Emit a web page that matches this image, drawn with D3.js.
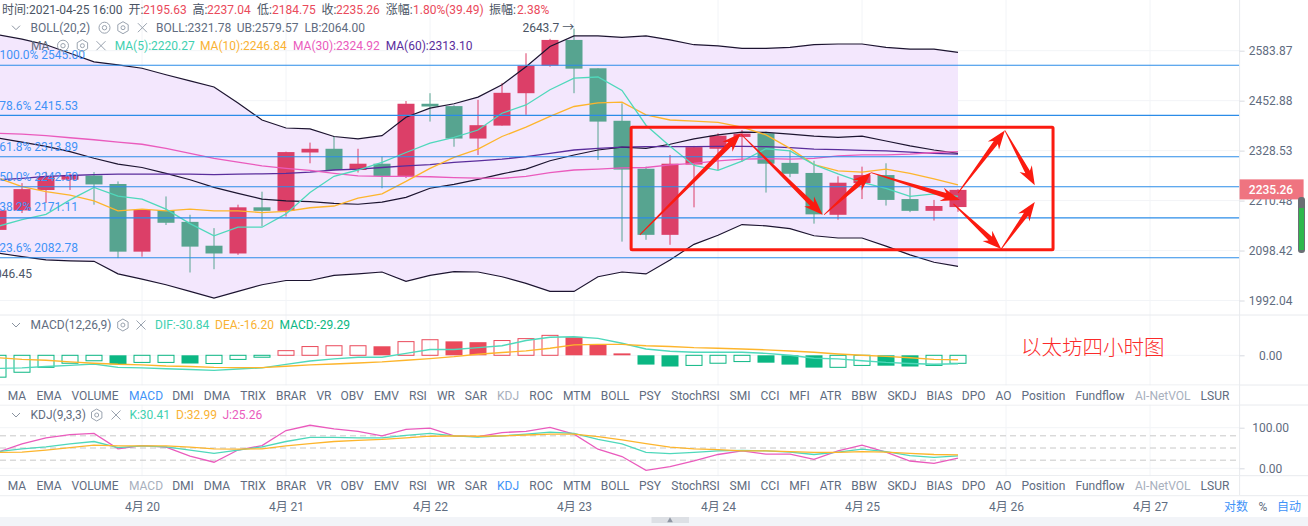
<!DOCTYPE html>
<html><head><meta charset="utf-8">
<script src="https://cdnjs.cloudflare.com/ajax/libs/d3/7.8.5/d3.min.js"></script>
<style>html,body{margin:0;padding:0;background:#fff;overflow:hidden}svg{display:block}text{font-family:Roboto,"Noto Sans CJK SC",sans-serif}</style>
</head><body><svg id="c" width="1308" height="526"></svg>
<script>
const opens=[2144,2188,2235,2259,2269,2249,2096,2188,2162,2109,2092,2195,2187,2324,2333,2282,2297,2268,2445,2439,2358,2390,2472,2544,2613,2537,2402,2285,2133,2295,2333,2362,2371,2299,2275,2178,2251,2270,2214,2187,2195.63];
const highs=[2193,2251,2278,2274,2277,2255,2191,2220,2178,2148,2201,2231,2326,2348,2363,2333,2314,2452,2472,2441,2455,2498,2577,2616,2643.7,2537,2446,2290,2318,2340,2371,2379,2375,2329,2304,2267,2290,2298,2241,2212,2237.04];
const lows=[2137,2182,2205,2235,2201,2082,2085,2155,2051,2058,2089,2152,2174,2298,2281,2276,2239,2263,2400,2338,2318,2390,2417,2541,2472,2306,2118,2122,2111,2195,2282,2302,2229,2265,2158,2167,2214,2199,2184,2165,2184.75];
const closes=[2188,2237,2267,2269,2248,2096,2189,2160,2107,2092,2195,2187,2325,2333,2282,2297,2268,2445,2438,2358,2391,2473,2544,2613,2536,2400,2283,2133,2297,2337,2365,2370,2297,2273,2179,2252,2270,2212,2187,2198,2235.26];
const bollUp=[2627,2615,2600,2577,2554,2546,2537,2520,2504,2488,2447,2404,2384,2382,2363,2357,2365,2411,2434,2445,2462,2494,2541,2595,2624,2624,2620,2624,2613,2600,2597,2590,2590,2593,2600,2602,2602,2593,2588,2588,2579.57];
const bollMid=[2359,2349,2339,2326,2310,2296,2288,2274,2259,2241,2227,2214,2210,2208,2204,2202,2207,2218,2239,2248,2260,2273,2284,2304,2318,2330,2337,2334,2344,2357,2367,2374,2373,2369,2364,2361,2364,2352,2340,2330,2321.78];
const bollLow=[2093,2085,2078,2076,2075,2048,2037,2025,2011,1997,2011,2025,2034,2034,2045,2048,2052,2032,2045,2053,2052,2042,2028,2011,2011,2042,2052,2048,2078,2112,2132,2156,2153,2147,2131,2126,2126,2108,2089,2073,2064];
const ma5=[2152,2167,2179,2212,2241,2221,2214,2191,2158,2131,2150,2150,2180,2229,2267,2282,2300,2324,2347,2361,2379,2421,2442,2481,2511,2514,2479,2391,2339,2293,2281,2303,2333,2328,2295,2273,2253,2239,2220,2226,2220.27];
const ma10=[2263,2243,2231,2223,2210,2187,2191,2187,2191,2187,2187,2183,2186,2194,2198,2216,2226,2255,2286,2312,2332,2363,2386,2413,2438,2447,2449,2417,2404,2401,2398,2386,2367,2334,2295,2280,2277,2284,2274,2261,2246.84];
const ma30=[2371,2369,2365,2360,2355,2349,2344,2334,2322,2310,2301,2292,2286,2281,2274,2268,2267,2267,2266,2264,2263,2262,2267,2276,2282,2284,2287,2288,2294,2298,2304,2308,2309,2308,2310,2316,2318,2318,2320,2324,2326];
const ma60=[2259,2262,2267,2269,2271,2272,2272,2272,2272,2271,2272,2273,2274,2277,2282,2284,2288,2292,2295,2300,2304,2308,2314,2322,2330,2334,2337,2338,2338,2338,2339,2339,2338,2336,2332,2331,2329,2328,2325,2322,2320];
const macdHist=[-80,-62,-44,-29,-20,-33,-26,-26,-30,-30,-15,-7,17,32,35,35,33,50,57,51,48,54,61,73,66,40,7,-34,-41,-37,-29,-23,-27,-34,-45,-44,-37,-38,-41,-37,-29.29];
const dif=[-48,-46,-41,-37,-32,-44,-46,-49,-52,-55,-50,-46,-33,-21,-13,-7,-7,7,21,21,28,35,54,66,68,62,44,23,15,11,11,11,7,0,-11,-13,-20,-26,-30,-33,-30.84];
const dea=[-9,-15,-18,-24,-29,-33,-35,-39,-41,-44,-45,-45,-40,-35,-32,-28,-24,-18,-12,-5,4,10,16,26,38,40,40,35,32,28,26,23,20,16,11,5,0,-4,-9,-15,-16.2];
const kVals=[41,48,53,60,66,51,55,53,45,37,45,53,66,76,76,75,75,81,86,80,77,80,84,89,86,71,60,39,36,39,43,44,43,40,34,40,47,41,31,27,30.41];
const dVals=[39,40,45,51,57,55,55,55,52,48,47,48,55,61,66,69,71,75,79,80,79,80,82,84,84,78,70,61,52,48,46,43,43,41,39,39,41,40,37,34,32.99];
const jVals=[40,60,75,83,86,48,56,52,30,15,45,56,93,106,97,91,80,96,99,80,78,88,91,101,84,47,29,-5,4,18,34,43,35,35,22,43,57,40,18,12,25.26];
const fibLevels=[2545,2415.53,2313.89,2242.5,2171.11,2082.78];
const fibLabels=["100.0% 2545.00","78.6% 2415.53","61.8% 2313.89","50.0% 2242.50","38.2% 2171.11","23.6% 2082.78"];
const priceTicks=[2583.87,2452.88,2328.53,2210.48,2098.42,1992.04];
const dayTicks=[6,12,18,24,30,36,42,48];
const dayLabels=["4月 20","4月 21","4月 22","4月 23","4月 24","4月 25","4月 26","4月 27"];
const tabs=["MA","EMA","VOLUME","MACD","DMI","DMA","TRIX","BRAR","VR","OBV","EMV","RSI","WR","SAR","KDJ","ROC","MTM","BOLL","PSY","StochRSI","SMI","CCI","MFI","ATR","BBW","SKDJ","BIAS","DPO","AO","Position","Fundflow","AI-NetVOL","LSUR"];
const tabCentres=[17,49,95,146,183,217,253,291,324,352,386.5,418,446,476,508,541,577,615,650,695.5,740,770,799.5,830.6,864,902,939.4,973.7,1003.5,1043.4,1100,1162.8,1215];
// annotation arrows: [candle index, price] pairs
const arrowsFrom=[[26.74,2133],[30.95,2369],[34.42,2178],[36.38,2276],[40,2228],[41.95,2378],[39.81,2203],[41.8,2102]];
const arrowsTo=[[30.95,2371],[34.36,2178],[36.38,2276],[40.08,2212],[41.95,2378],[43.2,2246],[41.8,2102],[43.2,2207]];
const boxIdx=[26.38,43.96], boxPrice=[2386,2100];

const idx=d3.range(opens.length);
const W=1308,AX=1239.6;
const svg=d3.select("#c");
const x=d3.scaleLinear().domain([0,40]).range([-2,958]);
const y=d3.scaleLog().domain([2583.87,1992.04]).range([50.7,300.5]);
const yM=d3.scaleLinear().domain([0,73]).range([355.3,335.35]);
const yK=d3.scaleLinear().domain([0,100]).range([468.3,427.7]);
const UP="#dc3f68",DN="#57a490",TEAL="#4fd8bb",ORG="#fdb52c",PINK="#ea5bbd",PUR="#5a2d9c",RED="#ea4a5b",HG="#0bb783",TXT="#5f6c80",BLUE="#3f93f7";
const t=(px,py,s,o={})=>svg.append("text").attr("x",px).attr("y",py).attr("dominant-baseline","central").attr("font-size",o.size||12).attr("text-anchor",o.anchor||"start").attr("fill",o.fill||TXT).attr("font-weight",o.weight||400).text(s);

// grid
const gG=svg.append("g").attr("stroke","#f2f4f7").attr("fill","none");
dayTicks.forEach(d=>gG.append("line").attr("x1",x(d)).attr("x2",x(d)).attr("y1",0).attr("y2",495));
priceTicks.forEach(p=>gG.append("line").attr("x1",0).attr("x2",AX).attr("y1",y(p)).attr("y2",y(p)));
[0].forEach(v=>gG.append("line").attr("x1",0).attr("x2",AX).attr("y1",yM(v)).attr("y2",yM(v)));
[0,100].forEach(v=>gG.append("line").attr("x1",0).attr("x2",AX).attr("y1",yK(v)).attr("y2",yK(v)));

// band
svg.append("path").datum(idx).attr("fill","#f3e7fd").attr("d",d3.area().x(i=>x(i)).y0(i=>y(bollLow[i])).y1(i=>y(bollUp[i])));

// candles
const cw=17;
const cg=svg.append("g");
cg.selectAll("line").data(idx).join("line").attr("x1",i=>x(i)).attr("x2",i=>x(i)).attr("y1",i=>y(highs[i])).attr("y2",i=>y(lows[i])).attr("stroke",i=>closes[i]>=opens[i]?UP:DN).attr("stroke-width",1);
cg.selectAll("rect").data(idx).join("rect").attr("x",i=>x(i)-cw/2).attr("width",cw).attr("y",i=>y(Math.max(opens[i],closes[i]))).attr("height",i=>Math.abs(y(opens[i])-y(closes[i]))).attr("fill",i=>closes[i]>=opens[i]?UP:DN);

// price lines
const lineP=s=>d3.line().x(i=>x(i)).y(i=>y(s[i]));
[[bollUp,"#1c1430",1.2],[bollMid,"#1c1430",1.2],[bollLow,"#1c1430",1.2],[ma60,PUR,1.3],[ma30,PINK,1.3],[ma10,ORG,1.3],[ma5,TEAL,1.3]].forEach(([s,c,w])=>
 svg.append("path").datum(idx).attr("fill","none").attr("stroke",c).attr("stroke-width",w).attr("d",lineP(s)));

// fib
fibLevels.forEach(p=>svg.append("line").attr("x1",0).attr("x2",AX).attr("y1",y(p)).attr("y2",y(p)).attr("stroke","#2b8ce8").attr("stroke-width",1.1));
const fibY=[55,105.7,146.7,176.7,207.3,247.7],fibEnd=[85,78,78,78,78,78];
fibLabels.forEach((s,i)=>t(fibEnd[i],fibY[i],s,{anchor:"end",fill:BLUE}));
t(32,274,"0.0% 2046.45",{anchor:"end",fill:"#4c5667"});

// MACD pane
const mg=svg.append("g");
idx.forEach(i=>{const v=macdHist[i],prev=i?macdHist[i-1]:-Infinity,c=v>=0?RED:HG,fill=v<prev;
 const y0=yM(0),y1=yM(v);
 mg.append("rect").attr("x",x(i)-cw/2+(fill?0:.5)).attr("width",fill?cw:cw-1).attr("y",Math.min(y0,y1)).attr("height",Math.abs(y1-y0)).attr("fill",fill?c:"none").attr("stroke",fill?"none":c);});
const lineM=s=>d3.line().x(i=>x(i)).y(i=>yM(s[i]));
svg.append("path").datum(idx).attr("fill","none").attr("stroke",TEAL).attr("stroke-width",1.4).attr("d",lineM(dif));
svg.append("path").datum(idx).attr("fill","none").attr("stroke",ORG).attr("stroke-width",1.4).attr("d",lineM(dea));

// KDJ pane
[80,50,20].forEach(v=>svg.append("line").attr("x1",0).attr("x2",AX).attr("y1",yK(v)).attr("y2",yK(v)).attr("stroke","#c8c8c8").attr("stroke-dasharray","6 4"));
const lineK=s=>d3.line().x(i=>x(i)).y(i=>yK(s[i]));
[[jVals,PINK],[kVals,TEAL],[dVals,ORG]].forEach(([s,c])=>svg.append("path").datum(idx).attr("fill","none").attr("stroke",c).attr("stroke-width",1.3).attr("d",lineK(s)));

// separators
const sep=svg.append("g").attr("stroke","#e8eaee");
[315,385,405,475.7,495.7].forEach(v=>sep.append("line").attr("x1",0).attr("x2",W).attr("y1",v).attr("y2",v));
svg.append("rect").attr("x",0).attr("y",385.5).attr("width",AX).attr("height",19).attr("fill","#fff");
svg.append("rect").attr("x",0).attr("y",476.2).attr("width",AX).attr("height",19).attr("fill","#fff");
svg.append("rect").attr("x",0).attr("y",517).attr("width",W).attr("height",9).attr("fill","#f2f4f8");
svg.append("rect").attr("x",651.5).attr("y",517).attr("width",37.5).attr("height",6).attr("fill","#dde0e5");
svg.append("path").attr("d",d3.symbol(d3.symbolTriangle,14)()).attr("transform","translate(670,520.5)").attr("fill","#8f96a3");

// tabs
tabs.forEach((s,i)=>{
 const c1=s==="MACD"?BLUE:(s==="KDJ"||s==="AI-NetVOL")?"#a8b0bd":TXT;
 const c2=s==="KDJ"?BLUE:(s==="MACD"||s==="AI-NetVOL")?"#a8b0bd":TXT;
 t(tabCentres[i],395.7,s,{anchor:"middle",fill:c1});
 t(tabCentres[i],485.7,s,{anchor:"middle",fill:c2});
});

// axes
const styleAxis=(g)=>{g.select(".domain").attr("stroke","#e8eaee");g.selectAll(".tick line").attr("stroke","#d8dbe1");g.selectAll(".tick text").attr("x",31).attr("text-anchor","middle").attr("fill",TXT).attr("font-size",12).attr("font-family","Roboto");};
svg.append("line").attr("x1",AX).attr("x2",AX).attr("y1",0).attr("y2",495).attr("stroke","#e8eaee");
svg.append("g").attr("transform",`translate(${AX},0)`).call(d3.axisRight(y).tickValues(priceTicks).tickFormat(d3.format(".2f")).tickSize(5)).call(styleAxis).call(g=>g.select(".domain").remove());
svg.append("g").attr("transform",`translate(${AX},0)`).call(d3.axisRight(yM).tickValues([0]).tickFormat(d3.format(".2f")).tickSize(5)).call(styleAxis).call(g=>g.select(".domain").remove());
svg.append("g").attr("transform",`translate(${AX},0)`).call(d3.axisRight(yK).tickValues([0,100]).tickFormat(d3.format(".2f")).tickSize(5)).call(styleAxis).call(g=>g.select(".domain").remove());
svg.append("g").attr("transform","translate(0,495.7)").call(d3.axisBottom(x).tickValues(dayTicks).tickFormat((d,i)=>dayLabels[i]).tickSize(0)).call(g=>{g.select(".domain").remove();g.selectAll("text").attr("y",11).attr("dy",0).attr("dominant-baseline","central").attr("fill",TXT).attr("font-size",12).attr("font-family","Roboto,'Noto Sans CJK SC'");});
t(1224,506.7,"对数",{fill:BLUE});t(1263,506.7,"%",{anchor:"middle"});t(1277,506.7,"自动",{fill:BLUE});

// last price tag
svg.append("rect").attr("x",AX).attr("y",y(2235.26)-10.5).attr("width",64).attr("height",20).attr("fill","#ef7480");
t(1271,y(2235.26)+.5,"2235.26",{anchor:"middle",fill:"#fff",weight:500});
svg.append("rect").attr("x",1298).attr("y",197).attr("width",7).attr("height",56).attr("rx",3).attr("fill","#6b6f74");
svg.append("rect").attr("x",1299).attr("y",208).attr("width",5).attr("height",42).attr("fill","#2fb84c");

// annotations
svg.append("rect").attr("x",x(boxIdx[0])).attr("y",y(boxPrice[0])).attr("width",x(boxIdx[1])-x(boxIdx[0])).attr("height",y(boxPrice[1])-y(boxPrice[0])).attr("fill","none").attr("stroke","#fb1b10").attr("stroke-width",3).attr("rx",1);
arrowsFrom.forEach((a,k)=>{
 const b=arrowsTo[k],x0=x(a[0]),y0=y(a[1]),x1=x(b[0]),y1=y(b[1]);
 const L=Math.hypot(x1-x0,y1-y0),ux=(x1-x0)/L,uy=(y1-y0)/L,nx=-uy,ny=ux,hl=Math.min(19,L*.45);
 const P=(d,w)=>[x0+ux*d+nx*w,y0+uy*d+ny*w];
 const pts=[P(0,.4),P(L-hl+4,2.6),P(L-hl,7),P(L,0),P(L-hl,-7),P(L-hl+4,-2.6),P(0,-.4)];
 svg.append("polygon").attr("points",pts.map(p=>p.join(",")).join(" ")).attr("fill","#fb1b10");
});
t(1021,347.7,"以太坊四小时图",{size:20.5,fill:"#fb2a2a",weight:300});

// legends
const icon={
 eye:(px,py)=>{const g=svg.append("g").attr("fill","none").attr("stroke","#9aa3af");g.append("circle").attr("cx",px).attr("cy",py).attr("r",5.5);g.append("circle").attr("cx",px).attr("cy",py).attr("r",2.2);},
 hex:(px,py)=>{const g=svg.append("g").attr("fill","none").attr("stroke","#9aa3af");g.append("path").attr("d",d3.line()(d3.range(6).map(k=>[px+6*Math.sin(k*Math.PI/3),py+6*Math.cos(k*Math.PI/3)]))+"Z");g.append("circle").attr("cx",px).attr("cy",py).attr("r",2);},
 x:(px,py)=>{svg.append("path").attr("d",`M${px-4.5},${py-4.5}L${px+4.5},${py+4.5}M${px+4.5},${py-4.5}L${px-4.5},${py+4.5}`).attr("stroke","#9aa3af").attr("fill","none");},
 chev:(px,py)=>{svg.append("path").attr("d",`M${px-4},${py-2}L${px},${py+2}L${px+4},${py-2}`).attr("stroke","#8a93a0").attr("fill","none");}
};
const hdr=[[2,"时间:",TXT],[128.6,"开:",TXT],[192.6,"高:",TXT],[257,"低:",TXT],[321.6,"收:",TXT],[385.7,"涨幅:",TXT],[489,"振幅:",TXT]];
const hdrV=["2021-04-25 16:00","2195.63","2237.04","2184.75","2235.26","1.80%(39.49)","2.38%"];
const hdrVX=[29,143,207,272,336,413,517];
hdr.forEach((h,i)=>{t(h[0],10,h[1],{fill:"#4a5464"});t(hdrVX[i],10,hdrV[i],{fill:i?RED:"#4a5464"});});
icon.chev(16,27.7);t(30.6,27.7,"BOLL(20,2)");icon.eye(104.5,27.7);icon.hex(123,27.7);icon.x(142.4,27.7);
t(156,27.7,"BOLL:2321.78");t(236.7,27.7,"UB:2579.57");t(304.5,27.7,"LB:2064.00");
t(31,45.7,"MA");icon.eye(63,45.7);icon.hex(82.4,45.7);icon.x(101,45.7);
t(114.7,45.7,"MA(5):2220.27",{fill:"#3fd0b0"});t(200,45.7,"MA(10):2246.84",{fill:"#f9b233"});t(293,45.7,"MA(30):2324.92",{fill:PINK});t(385.7,45.7,"MA(60):2313.10",{fill:PUR});
t(522.4,28,"2643.7 →",{fill:"#4a5464"});
icon.chev(16,325);t(30.6,325,"MACD(12,26,9)");icon.hex(122.9,325);icon.x(141,325);
t(155,325,"DIF:-30.84",{fill:"#3fd0b0"});t(215,325,"DEA:-16.20",{fill:"#f9b233"});t(279.6,325,"MACD:-29.29",{fill:HG});
icon.chev(16,415);t(30.6,415,"KDJ(9,3,3)");icon.hex(96.7,415);icon.x(116,415);
t(129.4,415,"K:30.41",{fill:"#3fd0b0"});t(176,415,"D:32.99",{fill:"#f9b233"});t(222.5,415,"J:25.26",{fill:PINK});
</script></body></html>
